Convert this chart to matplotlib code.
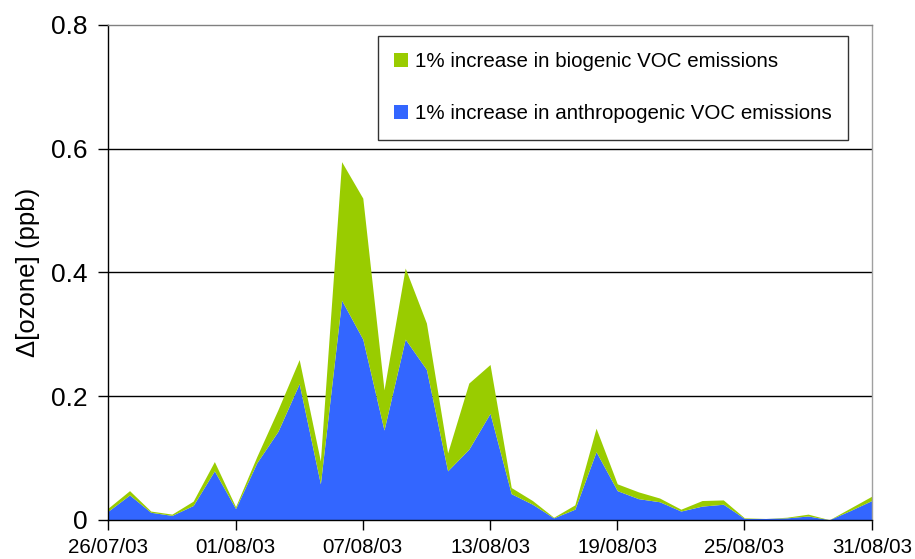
import matplotlib.pyplot as plt
from matplotlib.patches import Patch

plt.rcParams["font.family"] = ["Liberation Sans", "DejaVu Sans"]

# day index 0 = 26/07/03 ... 36 = 31/08/03
days = list(range(37))
tick_days = [0, 6, 12, 18, 24, 30, 36]
tick_labels = ["26/07/03", "01/08/03", "07/08/03", "13/08/03",
               "19/08/03", "25/08/03", "31/08/03"]

# anthropogenic contribution (blue, bottom layer)
anthro = [0.014, 0.040, 0.012, 0.007, 0.023, 0.079, 0.018, 0.092, 0.143, 0.220,
          0.058, 0.355, 0.292, 0.145, 0.292, 0.243, 0.079, 0.114, 0.172, 0.042,
          0.025, 0.003, 0.017, 0.110, 0.047, 0.034, 0.029, 0.014, 0.022, 0.025,
          0.002, 0.002, 0.003, 0.006, 0.000, 0.015, 0.031]
# top of the stack: anthropogenic + biogenic (green)
total = [0.019, 0.047, 0.014, 0.009, 0.030, 0.094, 0.021, 0.102, 0.178, 0.259,
         0.095, 0.579, 0.520, 0.210, 0.407, 0.318, 0.108, 0.221, 0.251, 0.052,
         0.031, 0.004, 0.024, 0.148, 0.058, 0.045, 0.035, 0.017, 0.031, 0.032,
         0.003, 0.002, 0.004, 0.009, 0.000, 0.019, 0.038]

green = "#99CC00"
blue = "#3366FF"

fig = plt.figure(figsize=(9.15, 5.59), dpi=100)
ax = fig.add_axes([0.1184, 0.0703, 0.8343, 0.885])

ax.fill_between(days, 0, anthro, color=blue, lw=0, zorder=3)
ax.fill_between(days, anthro, total, color=green, lw=0, zorder=3)

ax.set_xlim(0, 36)
ax.set_ylim(0, 0.8)
ax.set_yticks([0, 0.2, 0.4, 0.6, 0.8])
ax.set_yticklabels(["0", "0.2", "0.4", "0.6", "0.8"], fontsize=19)
ax.set_xticks(tick_days)
ax.set_xticklabels(tick_labels, fontsize=14.8)
ax.tick_params(axis="both", direction="out", length=7, width=1, color="black")
ax.tick_params(axis="x", pad=6)
ax.tick_params(axis="y", pad=8)

for y in [0.2, 0.4, 0.6]:
    ax.axhline(y, color="black", lw=1, zorder=1)

ax.spines["left"].set_color("black")
ax.spines["bottom"].set_color("black")
ax.spines["top"].set_color("#808080")
ax.spines["right"].set_color("#a0a0a0")
for s in ax.spines.values():
    s.set_linewidth(1)
    s.set_zorder(4)

ax.set_ylabel("Δ[ozone] (ppb)", fontsize=18.5, labelpad=8)

handles = [Patch(facecolor=green, edgecolor="none"),
           Patch(facecolor=blue, edgecolor="none")]
leg = ax.legend(handles,
                ["1% increase in biogenic VOC emissions",
                 "1% increase in anthropogenic VOC emissions"],
                loc="upper right", bbox_to_anchor=(0.969, 0.978),
                fontsize=14.8, frameon=True, fancybox=False,
                handlelength=0.65, handleheight=0.65, handletextpad=0.35,
                labelspacing=1.6, borderpad=0.8, borderaxespad=0)
leg.get_frame().set_edgecolor("black")
leg.get_frame().set_linewidth(1)

fig.savefig("out.png", dpi=100)
